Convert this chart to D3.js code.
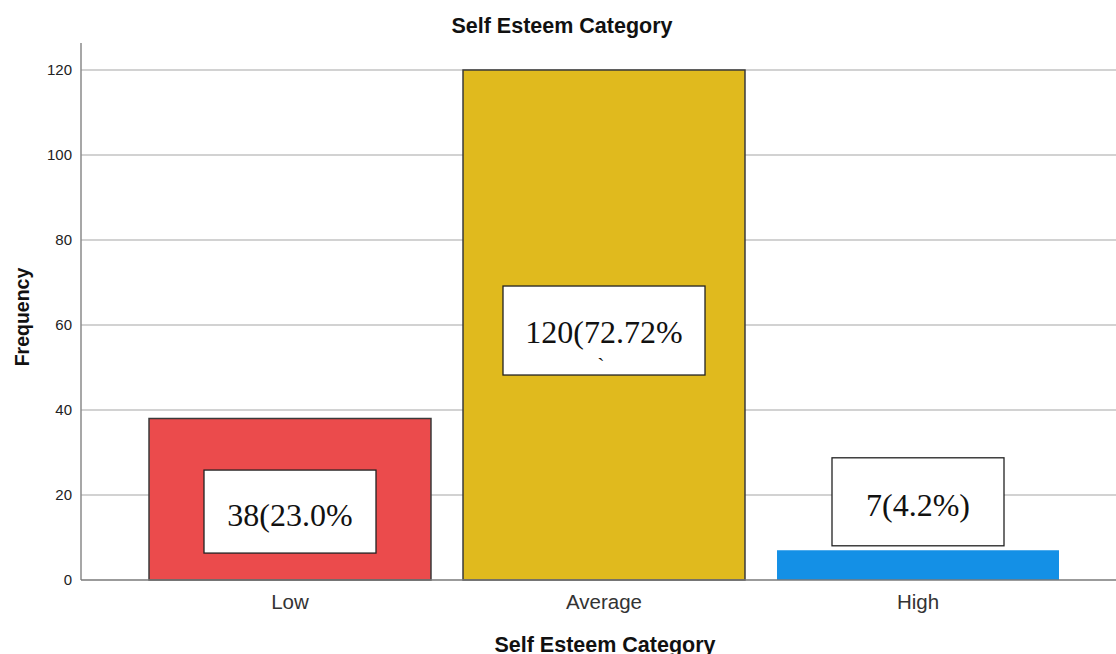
<!DOCTYPE html>
<html><head><meta charset="utf-8">
<script src="https://cdn.jsdelivr.net/npm/d3@7/dist/d3.min.js"></script>
<style>body{margin:0;background:#fff;}svg{display:block;}</style>
</head><body>
<svg id="chart" width="1116" height="654"></svg>
<script>
const categories = ["Low", "Average", "High"];
const frequencies = [38, 120, 7];
const barColors = ["#EB4B4C", "#E0BA1E", "#1490E6"];
const annotations = ["38(23.0%", "120(72.72%", "7(4.2%)"];
const annotationCenters = [16.1, 58.7, 18.4];
const yTicks = [0, 20, 40, 60, 80, 100, 120];

const svg = d3.select("#chart");
const mLeft = 81, mBottom = 580, mTop = 43;

const x = d3.scaleBand().domain(categories).range([mLeft, 1127])
  .paddingInner(0.102).paddingOuter(0.2166);
const y = d3.scaleLinear().domain([0, 120]).range([mBottom, 70]);

// grid
svg.append("g").selectAll("line").data(yTicks.filter(d => d > 0)).join("line")
  .attr("x1", mLeft).attr("x2", 1116)
  .attr("y1", d => y(d)).attr("y2", d => y(d))
  .attr("stroke", "#d2d2d2").attr("stroke-width", 2);

// bars
svg.append("g").selectAll("rect").data(categories).join("rect")
  .attr("x", d => x(d)).attr("width", x.bandwidth())
  .attr("y", (d, i) => y(frequencies[i]))
  .attr("height", (d, i) => mBottom - y(frequencies[i]))
  .attr("fill", (d, i) => barColors[i])
  .attr("stroke", (d, i) => i === 2 ? "none" : "#3a3a3a")
  .attr("stroke-width", 1.5);

// axes
const yAxis = svg.append("g").attr("transform", `translate(${mLeft},0)`)
  .call(d3.axisLeft(y).tickValues(yTicks).tickSize(0).tickPadding(9));
yAxis.select(".domain").remove();
yAxis.selectAll("text").attr("font-family", "Liberation Sans, Arial, sans-serif")
  .attr("font-size", 15).attr("fill", "#222");
svg.append("line").attr("x1", mLeft).attr("x2", mLeft).attr("y1", mTop).attr("y2", mBottom)
  .attr("stroke", "#8a8a8a").attr("stroke-width", 1.5);

const xAxis = svg.append("g").attr("transform", `translate(0,${mBottom})`)
  .call(d3.axisBottom(x).tickSize(0).tickPadding(14));
xAxis.select(".domain").remove();
xAxis.selectAll("text").attr("font-family", "Liberation Sans, Arial, sans-serif")
  .attr("font-size", 20.5).attr("fill", "#333");
svg.append("line").attr("x1", mLeft).attr("x2", 1116).attr("y1", mBottom).attr("y2", mBottom)
  .attr("stroke", "#7a7a7a").attr("stroke-width", 1.5);

// titles
svg.append("text").attr("x", 562).attr("y", 33).attr("text-anchor", "middle")
  .attr("font-family", "Liberation Sans, Arial, sans-serif").attr("font-weight", "bold")
  .attr("font-size", 21.5).attr("fill", "#111").text("Self Esteem Category");
svg.append("text").attr("x", 605).attr("y", 652).attr("text-anchor", "middle")
  .attr("font-family", "Liberation Sans, Arial, sans-serif").attr("font-weight", "bold")
  .attr("font-size", 21.5).attr("fill", "#111").text("Self Esteem Category");
svg.append("text").attr("transform", "translate(29,317) rotate(-90)").attr("text-anchor", "middle")
  .attr("font-family", "Liberation Sans, Arial, sans-serif").attr("font-weight", "bold")
  .attr("font-size", 19.5).attr("fill", "#111").text("Frequency");

// annotation boxes
const boxW = [172, 202, 172], boxH = [83, 89, 88];
const ann = svg.append("g").selectAll("g").data(categories).join("g")
  .attr("transform", (d, i) => `translate(${x(d) + x.bandwidth() / 2},${y(annotationCenters[i])})`);
ann.append("rect")
  .attr("x", (d, i) => -boxW[i] / 2).attr("y", (d, i) => -boxH[i] / 2)
  .attr("width", (d, i) => boxW[i]).attr("height", (d, i) => boxH[i])
  .attr("fill", "#fff").attr("stroke", "#222").attr("stroke-width", 1.3);
ann.append("text").attr("text-anchor", "middle")
  .attr("y", (d, i) => i === 1 ? 12 : 14)
  .attr("font-family", "Liberation Serif, Times New Roman, serif")
  .attr("font-size", 32).attr("fill", "#111")
  .text((d, i) => annotations[i]);
ann.filter((d, i) => i === 1).append("text").attr("text-anchor", "middle")
  .attr("x", -3).attr("y", 42)
  .attr("font-family", "Liberation Serif, Times New Roman, serif")
  .attr("font-size", 22).attr("fill", "#111").text("`");
</script>
</body></html>
